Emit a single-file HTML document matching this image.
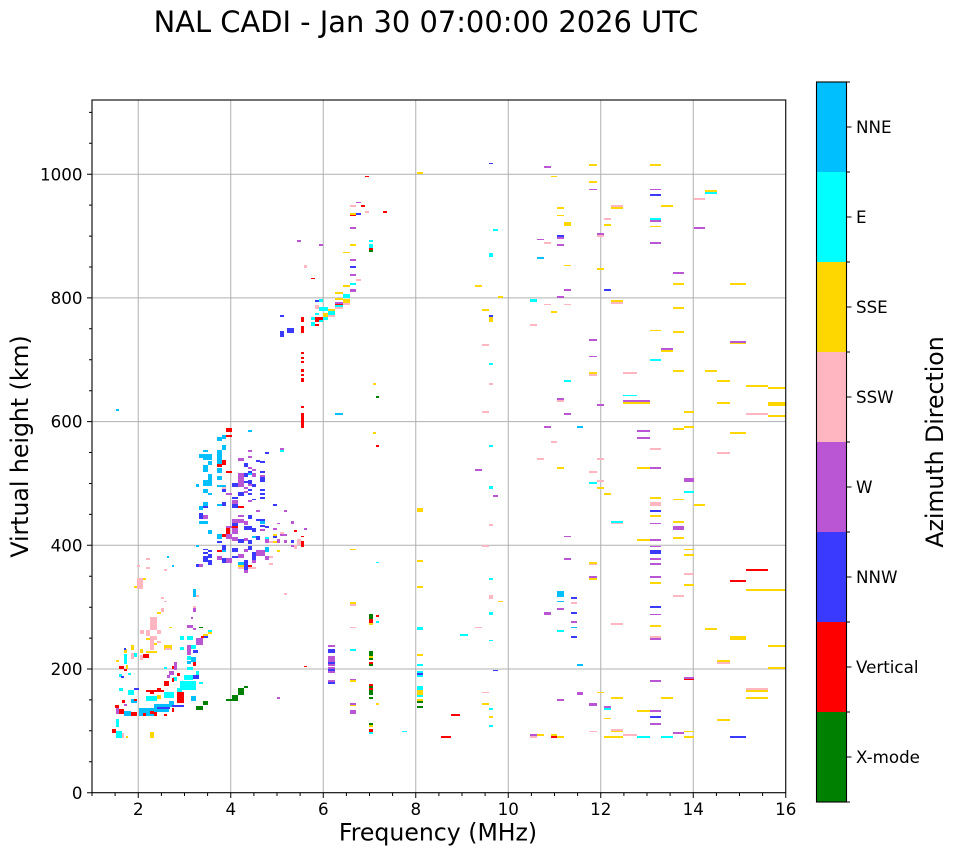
<!DOCTYPE html>
<html><head><meta charset="utf-8"><style>
html,body{margin:0;padding:0;background:#fff;}
svg{display:block;}
text{font-family:"DejaVu Sans","Liberation Sans",sans-serif;fill:#000;}
.tk{font-size:16.7px;}
.lb{font-size:23.6px;}
</style></head><body>
<svg width="958" height="857" viewBox="0 0 958 857" xmlns="http://www.w3.org/2000/svg">
<rect width="958" height="857" fill="#fff"/>
<defs><clipPath id="ax"><rect x="92" y="100" width="693.75" height="692.7"/></clipPath></defs>
<text x="426" y="32" text-anchor="middle" style="font-size:28.9px">NAL CADI - Jan 30 07:00:00 2026 UTC</text>
<g stroke="#b0b0b0" stroke-width="1">
<path d="M138.25 100V792.7M230.75 100V792.7M323.25 100V792.7M415.75 100V792.7M508.25 100V792.7M600.75 100V792.7M693.25 100V792.7"/>
<path d="M92 669H785.75M92 545.3H785.75M92 421.6H785.75M92 297.9H785.75M92 174.2H785.75"/>
</g>
<g clip-path="url(#ax)">
<path fill="#FFD700" d="M143 578h3v2h-3zM134 586h3v2h-3zM157 612h4v2h-4zM154 619h3v2h-3zM169 627h3v1h-3zM208 632h4v2h-4zM203 634h5v2h-5zM146 638h4v2h-4zM154 643h3v2h-3zM164 645h8v5h-8zM131 645h3v5h-3zM124 649h3v4h-3zM140 649h3v4h-3zM146 651h11v2h-11zM116 660h3v2h-3zM126 665h2v4h-2zM157 695h4v4h-4zM126 736h2v2h-2zM150 732h4v6h-4zM373 383h3v2h-3zM373 432h3v2h-3zM238 565h6v3h-6zM273 534h4v2h-4zM273 541h4v2h-4zM277 550h3v2h-3zM351 549h5v1h-5zM417 560h6v2h-6zM417 508h6v4h-6zM417 172h6v2h-6zM350 213h6v2h-6zM350 244h6v2h-6zM343 252h7v1h-7zM343 285h7v2h-7zM335 292h8v2h-8zM475 285h7v2h-7zM498 296h5v2h-5zM335 298h8v2h-8zM343 299h7v5h-7zM328 309h7v2h-7zM323 313h5v4h-5zM482 309h7v2h-7zM489 317h4v5h-4zM350 549h6v1h-6zM417 586h6v2h-6zM498 601h5v1h-5zM350 602h6v2h-6zM369 623h4v2h-4zM417 654h6v2h-6zM350 680h6v2h-6zM369 656h4v2h-4zM417 690h6v5h-6zM417 699h6v2h-6zM482 703h7v2h-7zM489 716h4v2h-4zM350 705h6v1h-6zM376 703h3v2h-3zM369 725h4v2h-4zM589 164h8v2h-8zM650 164h11v2h-11zM551 176h6v1h-6zM589 181h8v2h-8zM705 190h12v2h-12zM611 207h12v2h-12zM661 205h12v2h-12zM557 207h7v2h-7zM557 215h7v1h-7zM564 222h7v4h-7zM604 224h7v2h-7zM650 226h11v1h-11zM564 265h7v1h-7zM597 268h7v2h-7zM673 283h11v2h-11zM730 283h16v2h-16zM611 300h12v2h-12zM551 311h6v2h-6zM673 307h11v2h-11zM650 330h11v1h-11zM673 331h11v2h-11zM730 343h16v1h-16zM661 350h12v2h-12zM589 372h8v2h-8zM673 370h11v2h-11zM705 370h12v2h-12zM717 380h13v2h-13zM746 385h22v2h-22zM768 387h18v2h-18zM623 402h27v2h-27zM717 402h13v2h-13zM768 402h18v4h-18zM684 411h10v2h-10zM768 415h18v2h-18zM684 426h10v2h-10zM673 428h11v2h-11zM730 432h16v2h-16zM557 467h7v2h-7zM637 467h13v2h-13zM597 487h7v2h-7zM604 493h7v2h-7zM650 497h11v2h-11zM673 499h11v1h-11zM694 504h11v2h-11zM650 515h11v2h-11zM673 521h11v2h-11zM673 537h11v2h-11zM637 539h13v2h-13zM684 549h10v1h-10zM684 554h10v2h-10zM589 562h8v2h-8zM589 578h8v2h-8zM650 582h11v2h-11zM684 584h10v2h-10zM746 589h40v2h-40zM650 625h11v2h-11zM705 628h12v2h-12zM730 636h16v4h-16zM768 645h18v2h-18zM717 660h13v2h-13zM768 667h18v2h-18zM746 690h22v2h-22zM597 692h7v1h-7zM611 697h12v2h-12zM661 697h12v2h-12zM746 697h22v2h-22zM637 710h13v2h-13zM717 719h13v2h-13zM604 718h7v1h-7zM611 731h12v1h-12zM684 731h10v1h-10zM537 734h7v2h-7zM551 734h6v2h-6zM557 736h7v2h-7zM604 736h19v2h-19zM684 736h10v2h-10z"/>
<path fill="#FFB6C1" d="M146 558h4v2h-4zM137 565h3v2h-3zM146 567h4v2h-4zM164 569h3v2h-3zM137 578h6v11h-6zM196 595h3v2h-3zM161 597h3v2h-3zM164 601h3v1h-3zM161 608h3v4h-3zM193 606h3v2h-3zM150 617h7v13h-7zM140 630h4v4h-4zM146 630h4v6h-4zM157 630h4v4h-4zM150 636h7v4h-7zM150 640h4v10h-4zM165 648h6v2h-6zM131 653h3v6h-3zM140 655h3v5h-3zM157 641h4v2h-4zM284 593h3v2h-3zM120 733h4v5h-4zM126 712h2v3h-2zM222 487h4v2h-4zM280 532h4v2h-4zM269 541h4v2h-4zM297 539h4v6h-4zM294 545h3v4h-3zM248 567h8v2h-8zM269 556h4v2h-4zM269 563h4v2h-4zM238 567h6v2h-6zM350 205h6v2h-6zM365 211h4v2h-4zM304 265h3v3h-3zM356 279h5v2h-5zM343 303h7v2h-7zM335 307h8v2h-8zM315 305h4v4h-4zM328 315h7v2h-7zM482 344h7v2h-7zM489 383h4v2h-4zM482 411h7v2h-7zM489 524h4v2h-4zM482 545h7v2h-7zM350 604h6v2h-6zM350 627h6v1h-6zM489 595h4v4h-4zM475 627h7v1h-7zM482 692h7v1h-7zM694 198h11v2h-11zM611 205h12v2h-12zM604 218h7v2h-7zM597 235h7v2h-7zM544 242h7v2h-7zM544 304h7v1h-7zM564 304h7v1h-7zM611 302h12v2h-12zM530 324h7v2h-7zM589 374h8v2h-8zM623 372h14v2h-14zM557 400h7v2h-7zM746 413h22v2h-22zM551 441h6v2h-6zM650 448h11v2h-11zM717 452h13v2h-13zM537 458h7v2h-7zM597 458h7v2h-7zM589 471h8v2h-8zM597 480h7v2h-7zM650 502h11v4h-11zM611 523h12v1h-12zM589 564h8v1h-8zM684 573h10v2h-10zM571 602h6v2h-6zM673 595h11v2h-11zM611 623h12v2h-12zM650 636h11v2h-11zM717 662h13v2h-13zM746 688h22v2h-22zM589 731h8v1h-8zM611 729h12v2h-12zM530 736h7v2h-7zM623 734h14v2h-14z"/>
<path fill="#BA55D3" d="M193 608h3v4h-3zM191 617h2v2h-2zM187 625h6v3h-6zM193 628h3v2h-3zM196 638h7v7h-7zM187 645h4v5h-4zM187 650h4v5h-4zM174 662h3v8h-3zM169 671h5v4h-5zM167 675h3v3h-3zM116 708h3v6h-3zM277 697h3v2h-3zM124 704h3v2h-3zM248 450h4v2h-4zM280 448h4v2h-4zM238 458h6v3h-6zM248 456h4v2h-4zM248 467h4v2h-4zM252 469h4v2h-4zM238 473h6v14h-6zM252 473h4v4h-4zM260 475h5v2h-5zM248 484h4v2h-4zM244 487h4v2h-4zM244 491h4v2h-4zM226 493h6v2h-6zM248 500h4v2h-4zM232 500h6v4h-6zM256 510h4v2h-4zM284 510h3v2h-3zM203 515h5v4h-5zM238 515h6v2h-6zM232 519h12v4h-12zM244 521h4v4h-4zM277 523h3v1h-3zM291 521h3v3h-3zM304 528h3v2h-3zM232 528h6v6h-6zM226 526h6v2h-6zM260 529h5v2h-5zM273 528h4v2h-4zM280 534h7v2h-7zM226 534h6v5h-6zM232 537h6v4h-6zM244 538h4v3h-4zM265 539h4v4h-4zM277 539h3v4h-3zM284 540h3v3h-3zM291 545h3v2h-3zM217 556h5v4h-5zM226 558h6v5h-6zM238 554h6v4h-6zM244 549h4v3h-4zM244 570h4v3h-4zM256 550h9v6h-9zM252 560h4v3h-4zM265 556h4v4h-4zM199 564h4v3h-4zM356 202h5v1h-5zM350 227h6v2h-6zM297 240h4v2h-4zM319 244h4v2h-4zM350 259h6v2h-6zM350 274h6v2h-6zM350 289h6v3h-6zM335 302h8v2h-8zM328 645h7v2h-7zM328 656h7v6h-7zM328 664h7v2h-7zM328 667h7v2h-7zM328 671h7v2h-7zM328 680h7v2h-7zM350 679h6v1h-6zM350 703h6v2h-6zM350 710h6v4h-6zM475 469h7v2h-7zM493 495h5v2h-5zM544 166h7v2h-7zM589 189h8v1h-8zM650 189h11v1h-11zM650 220h11v2h-11zM694 227h11v2h-11zM597 233h7v2h-7zM557 237h7v2h-7zM537 239h7v1h-7zM557 244h7v2h-7zM650 242h11v2h-11zM673 272h11v2h-11zM564 289h7v2h-7zM557 296h7v2h-7zM589 339h8v2h-8zM730 341h16v2h-16zM661 348h12v2h-12zM589 356h8v1h-8zM623 400h27v2h-27zM557 398h7v2h-7zM597 404h7v2h-7zM564 413h7v2h-7zM544 426h7v2h-7zM637 430h13v2h-13zM637 437h13v2h-13zM650 467h11v2h-11zM684 478h10v4h-10zM650 523h11v1h-11zM673 526h11v4h-11zM564 536h7v1h-7zM650 539h11v2h-11zM650 546h11v1h-11zM564 558h7v2h-7zM650 558h11v2h-11zM650 563h11v2h-11zM589 576h8v2h-8zM650 576h11v2h-11zM557 608h7v2h-7zM544 612h7v3h-7zM650 614h11v1h-11zM571 621h6v2h-6zM650 638h11v2h-11zM684 677h10v2h-10zM650 680h11v2h-11zM577 692h6v3h-6zM557 699h7v2h-7zM589 703h8v3h-8zM604 706h7v2h-7zM650 710h11v2h-11zM650 723h11v2h-11zM673 732h11v2h-11zM530 734h7v2h-7z"/>
<path fill="#00FFFF" d="M180 636h4v4h-4zM187 636h6v4h-6zM208 630h4v2h-4zM180 647h4v3h-4zM191 645h5v4h-5zM134 653h3v4h-3zM124 654h3v10h-3zM187 656h4v4h-4zM164 667h3v2h-3zM187 667h6v3h-6zM196 671h3v4h-3zM184 675h9v5h-9zM173 677h4v4h-4zM180 681h16v9h-16zM199 682h4v2h-4zM177 688h5v6h-5zM128 690h6v5h-6zM146 696h11v5h-11zM164 692h10v6h-10zM119 688h4v3h-4zM116 719h3v8h-3zM116 731h6v7h-6zM119 674h3v3h-3zM128 673h3v2h-3zM369 240h4v2h-4zM369 244h4v4h-4zM493 229h5v2h-5zM489 253h4v4h-4zM350 283h6v2h-6zM343 294h7v4h-7zM335 305h8v2h-8zM319 299h4v3h-4zM319 307h9v4h-9zM328 311h7v4h-7zM315 313h4v2h-4zM323 317h5v3h-5zM311 317h4v3h-4zM311 322h4v4h-4zM319 320h4v2h-4zM280 450h4v2h-4zM265 537h4v2h-4zM376 562h3v1h-3zM489 363h4v2h-4zM489 445h4v2h-4zM489 486h4v3h-4zM489 578h4v2h-4zM489 612h4v3h-4zM376 621h3v2h-3zM417 627h6v3h-6zM460 634h8v2h-8zM489 640h4v1h-4zM350 649h6v2h-6zM417 664h6v2h-6zM417 671h6v2h-6zM417 675h6v2h-6zM417 686h6v4h-6zM417 695h6v2h-6zM489 708h4v2h-4zM489 725h4v2h-4zM369 732h4v2h-4zM402 731h5v1h-5zM705 192h12v2h-12zM650 218h11v2h-11zM530 299h7v3h-7zM650 359h11v2h-11zM564 380h7v2h-7zM623 395h14v1h-14zM589 482h8v2h-8zM684 491h10v2h-10zM611 521h12v2h-12zM557 630h7v2h-7zM604 708h7v2h-7zM637 736h13v2h-13zM661 736h12v2h-12z"/>
<path fill="#00BFFF" d="M167 556h2v2h-2zM172 565h2v2h-2zM193 589h3v8h-3zM191 657h5v5h-5zM187 661h4v3h-4zM154 704h15v8h-15zM139 708h15v8h-15zM169 701h5v6h-5zM124 711h7v5h-7zM131 699h6v4h-6zM203 703h5v2h-5zM191 696h5v5h-5zM116 409h3v2h-3zM248 430h4v2h-4zM217 437h5v4h-5zM222 435h4v4h-4zM222 445h4v5h-4zM203 450h5v2h-5zM199 454h4v4h-4zM203 454h9v6h-9zM217 450h5v10h-5zM217 460h5v4h-5zM203 465h5v7h-5zM208 461h4v4h-4zM217 468h5v5h-5zM248 473h4v2h-4zM208 474h4v6h-4zM217 476h5v4h-5zM203 480h9v6h-9zM196 484h3v3h-3zM217 485h9v2h-9zM203 489h5v4h-5zM208 493h4v2h-4zM203 502h5v4h-5zM199 506h4v4h-4zM217 504h5v2h-5zM199 521h9v3h-9zM260 521h5v3h-5zM208 530h4v4h-4zM217 534h5v5h-5zM196 545h3v2h-3zM238 562h6v3h-6zM265 547h4v5h-4zM335 413h8v2h-8zM252 536h4v2h-4zM222 550h4v2h-4zM537 257h7v2h-7zM577 426h6v2h-6zM557 591h7v6h-7zM557 601h7v1h-7zM571 627h6v1h-6zM577 664h6v2h-6z"/>
<path fill="#3A3AFF" d="M201 636h7v2h-7zM193 675h6v4h-6zM134 688h5v2h-5zM121 676h3v2h-3zM172 705h12v2h-12zM157 707h13v2h-13zM124 648h2v2h-2zM193 650h5v3h-5zM280 331h4v6h-4zM287 330h7v3h-7zM265 452h4v2h-4zM256 460h4v2h-4zM260 461h5v2h-5zM244 463h4v4h-4zM248 471h4v2h-4zM260 471h5v2h-5zM244 473h4v4h-4zM260 477h5v5h-5zM244 481h4v2h-4zM232 483h6v4h-6zM248 480h4v4h-4zM252 484h4v3h-4zM222 489h4v3h-4zM248 489h4v2h-4zM260 489h5v2h-5zM238 492h6v4h-6zM248 493h4v2h-4zM260 493h5v2h-5zM232 497h6v2h-6zM252 499h4v1h-4zM260 497h5v2h-5zM232 504h6v4h-6zM273 504h4v2h-4zM203 506h5v2h-5zM222 502h4v4h-4zM199 513h4v6h-4zM248 515h4v4h-4zM256 519h9v2h-9zM260 525h5v2h-5zM265 526h4v2h-4zM232 523h6v4h-6zM244 526h8v4h-8zM252 528h4v4h-4zM273 536h4v2h-4zM238 539h6v4h-6zM248 540h4v4h-4zM256 536h4v4h-4zM291 540h3v3h-3zM203 549h5v1h-5zM203 552h5v2h-5zM203 556h5v6h-5zM208 550h4v2h-4zM208 554h4v4h-4zM208 560h4v5h-4zM217 541h5v2h-5zM222 545h4v5h-4zM222 558h4v5h-4zM232 548h6v4h-6zM232 556h6v2h-6zM244 560h4v10h-4zM248 546h4v4h-4zM252 552h4v8h-4zM196 564h3v3h-3zM489 163h4v1h-4zM356 213h5v2h-5zM350 266h6v2h-6zM315 300h4v2h-4zM280 315h4v2h-4zM287 328h7v5h-7zM301 329h3v2h-3zM489 315h4v2h-4zM328 649h7v4h-7zM328 662h7v2h-7zM328 669h7v2h-7zM328 682h7v2h-7zM493 670h5v1h-5zM417 673h6v2h-6zM650 194h11v2h-11zM557 235h7v2h-7zM604 289h7v2h-7zM650 510h11v2h-11zM650 550h11v4h-11zM571 597h6v2h-6zM650 606h11v2h-11zM571 612h6v2h-6zM571 636h6v2h-6zM650 716h11v2h-11zM730 736h16v2h-16z"/>
<path fill="#FF0000" d="M201 636h3v2h-3zM143 654h6v4h-6zM119 666h5v3h-5zM172 666h2v3h-2zM177 673h3v3h-3zM164 681h5v5h-5zM172 678h2v4h-2zM146 690h18v2h-18zM157 688h4v2h-4zM150 692h4v2h-4zM177 692h7v11h-7zM134 699h3v2h-3zM122 700h3v3h-3zM115 705h4v3h-4zM119 709h5v5h-5zM150 711h4v3h-4zM172 708h2v4h-2zM164 714h3v2h-3zM154 712h3v4h-3zM143 713h3v3h-3zM131 712h6v4h-6zM112 729h4v4h-4zM193 662h3v4h-3zM304 666h3v1h-3zM124 669h3v2h-3zM301 330h3v3h-3zM301 352h3v2h-3zM301 357h3v2h-3zM301 361h3v2h-3zM301 369h3v3h-3zM301 374h3v2h-3zM301 378h3v4h-3zM301 406h3v2h-3zM301 413h3v15h-3zM376 445h3v2h-3zM226 428h6v4h-6zM226 435h6v2h-6zM222 460h4v5h-4zM217 464h5v3h-5zM226 471h6v2h-6zM238 506h6v2h-6zM232 526h6v2h-6zM226 528h4v6h-4zM294 530h3v2h-3zM301 536h3v1h-3zM222 534h4v3h-4zM301 541h3v6h-3zM217 550h5v2h-5zM248 565h4v2h-4zM365 176h4v1h-4zM361 205h4v2h-4zM383 211h4v2h-4zM350 215h6v1h-6zM369 248h4v2h-4zM311 278h4v1h-4zM335 304h8v1h-8zM315 317h4v5h-4zM319 317h4v3h-4zM315 324h4v2h-4zM301 317h3v5h-3zM301 326h3v7h-3zM376 615h3v2h-3zM369 619h4v4h-4zM369 662h4v2h-4zM369 684h4v2h-4zM369 688h4v2h-4zM451 714h9v2h-9zM441 736h10v2h-10zM369 729h4v3h-4zM684 679h10v1h-10zM746 569h22v2h-22zM730 580h16v2h-16zM551 736h6v2h-6z"/>
<path fill="#008000" d="M199 627h4v1h-4zM196 706h7v4h-7zM203 701h5v4h-5zM226 699h6v2h-6zM232 695h6v6h-6zM238 688h6v7h-6zM244 686h4v2h-4zM376 396h3v2h-3zM369 250h4v2h-4zM369 614h4v5h-4zM369 651h4v5h-4zM369 658h4v2h-4zM369 664h4v2h-4zM369 686h4v2h-4zM369 690h4v5h-4zM369 697h4v2h-4zM369 723h4v2h-4zM417 701h6v2h-6zM417 706h6v2h-6z"/>
</g>
<rect x="92" y="100" width="693.75" height="692.7" fill="none" stroke="#000" stroke-width="1.1"/>
<g stroke="#000" stroke-width="1">
<path d="M138.25 793v5M230.75 793v5M323.25 793v5M415.75 793v5M508.25 793v5M600.75 793v5M693.25 793v5M785.75 793v5"/>
<path d="M92 793v3M115.1 793v3M161.4 793v3M184.5 793v3M207.6 793v3M253.9 793v3M277 793v3M300.1 793v3M346.4 793v3M369.5 793v3M392.6 793v3M438.9 793v3M462 793v3M485.1 793v3M531.4 793v3M554.5 793v3M577.6 793v3M623.9 793v3M647 793v3M670.1 793v3M716.4 793v3M739.5 793v3M762.6 793v3"/>
<path d="M87 792.7h5M87 669h5M87 545.3h5M87 421.6h5M87 297.9h5M87 174.2h5"/>
<path d="M89 761.8h3M89 730.8h3M89 699.9h3M89 638.1h3M89 607.2h3M89 576.2h3M89 514.4h3M89 483.5h3M89 452.5h3M89 390.7h3M89 359.8h3M89 328.8h3M89 267h3M89 236.1h3M89 205.1h3M89 143.3h3M89 112.4h3"/>
</g>
<g class="tk" text-anchor="middle">
<text x="138.25" y="815">2</text><text x="230.75" y="815">4</text><text x="323.25" y="815">6</text><text x="415.75" y="815">8</text><text x="508.25" y="815">10</text><text x="600.75" y="815">12</text><text x="693.25" y="815">14</text><text x="785.75" y="815">16</text>
</g>
<g class="tk" text-anchor="end">
<text x="82.5" y="798.8">0</text><text x="82.5" y="675.1">200</text><text x="82.5" y="551.4">400</text><text x="82.5" y="427.7">600</text><text x="82.5" y="304">800</text><text x="82.5" y="180.3">1000</text>
</g>
<text class="lb" x="438" y="840.5" text-anchor="middle">Frequency (MHz)</text>
<text class="lb" transform="translate(28,446.5) rotate(-90)" text-anchor="middle">Virtual height (km)</text>
<g>
<rect x="816.5" y="82" width="30" height="90" fill="#00BFFF"/>
<rect x="816.5" y="172" width="30" height="90" fill="#00FFFF"/>
<rect x="816.5" y="262" width="30" height="90" fill="#FFD700"/>
<rect x="816.5" y="352" width="30" height="90" fill="#FFB6C1"/>
<rect x="816.5" y="442" width="30" height="90" fill="#BA55D3"/>
<rect x="816.5" y="532" width="30" height="90" fill="#3A3AFF"/>
<rect x="816.5" y="622" width="30" height="90" fill="#FF0000"/>
<rect x="816.5" y="712" width="30" height="90" fill="#008000"/>
<rect x="816.5" y="82" width="30" height="720" fill="none" stroke="#000" stroke-width="1.1"/>
<path stroke="#000" stroke-width="1" d="M846.5 82h3.5M846.5 172h3.5M846.5 262h3.5M846.5 352h3.5M846.5 442h3.5M846.5 532h3.5M846.5 622h3.5M846.5 712h3.5M846.5 802h3.5M846.5 127h5M846.5 217h5M846.5 307h5M846.5 397h5M846.5 487h5M846.5 577h5M846.5 667h5M846.5 757h5"/>
</g>
<g class="tk">
<text x="856" y="133">NNE</text><text x="856" y="223">E</text><text x="856" y="313">SSE</text><text x="856" y="403">SSW</text><text x="856" y="493">W</text><text x="856" y="583">NNW</text><text x="856" y="673">Vertical</text><text x="856" y="763">X-mode</text>
</g>
<text class="lb" transform="translate(943,442) rotate(-90)" text-anchor="middle">Azimuth Direction</text>
</svg>
</body></html>
